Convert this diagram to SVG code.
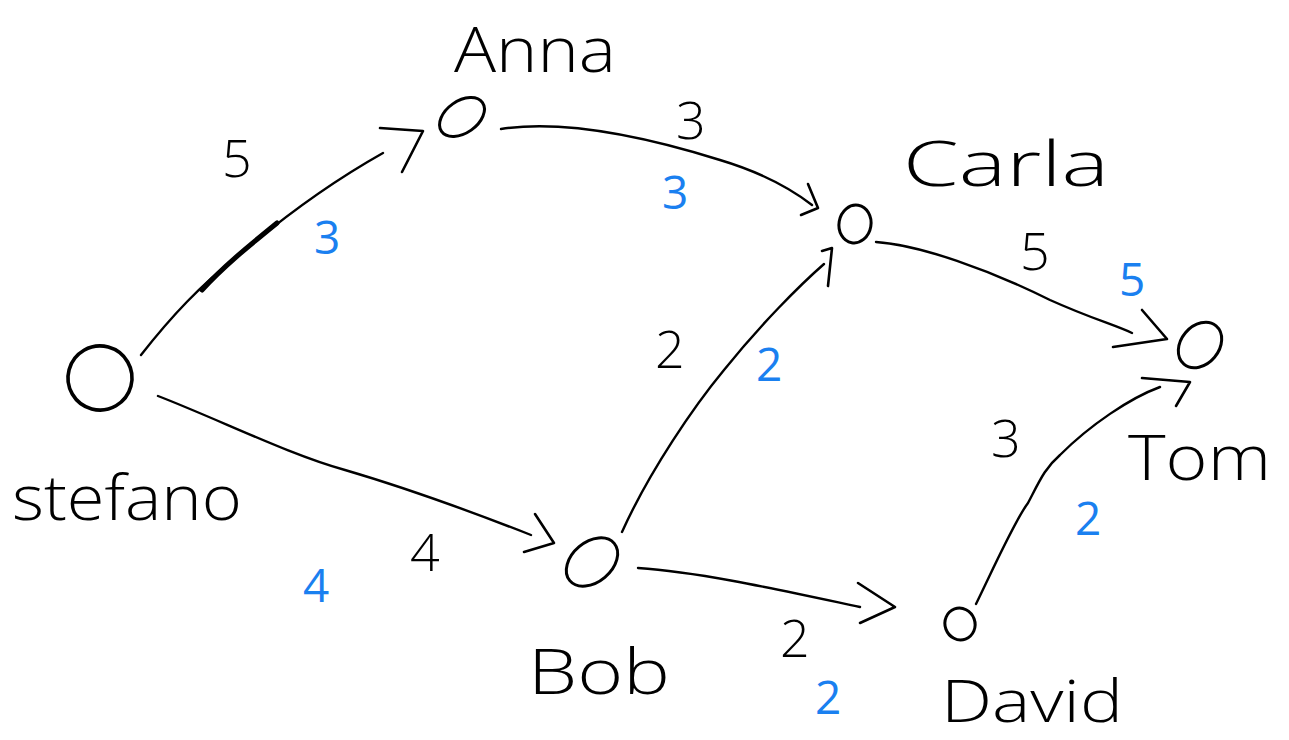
<svg xmlns="http://www.w3.org/2000/svg" width="1289" height="740" viewBox="0 0 1289 740">
  <style>
    .bg { fill: #ffffff; }
    .node { fill: none; stroke: #000; stroke-width: 3; }
    .edge { fill: none; stroke: #000; stroke-width: 2.4; stroke-linecap: round; stroke-linejoin: round; }
    .head { fill: none; stroke: #000; stroke-width: 2.6; stroke-linecap: round; stroke-linejoin: round; }
    .name { font-family: "Open Sans", "Liberation Sans", sans-serif; font-weight: 300; font-size: 62px; fill: #000; }
    .w { font-family: "Open Sans", "Liberation Sans", sans-serif; font-weight: 300; font-size: 52px; fill: #000; }
    .wb { font-family: "Open Sans", "Liberation Sans", sans-serif; font-weight: 400; font-size: 46px; fill: #1a80f0; }
  </style>
  <rect class="bg" x="0" y="0" width="1289" height="740"/>

  <!-- connectors -->
  <g id="connectors">
    <!-- stefano -> Anna -->
    <path class="edge" d="M141 355 C170 318 200 285 245 250 C290 212 335 180 383 153"/>
    <path class="edge" style="stroke-width:5" d="M202 290 C225 265 250 245 277 223"/>
    <path class="head" d="M380 128 L423 131 L402 172"/>
    <!-- Anna -> Carla -->
    <path class="edge" d="M501 129 C560 120 640 135 720 160 C760 172 790 188 812 205"/>
    <path class="head" d="M808 184 L818 208 L801 215"/>
    <!-- stefano -> Bob -->
    <path class="edge" d="M158 396 C220 420 290 455 345 470 C420 492 480 515 531 535"/>
    <path class="head" d="M535 514 L554 543 L524 552"/>
    <!-- Bob -> Carla -->
    <path class="edge" d="M622 532 C650 470 695 405 724 370 C760 325 800 285 824 264"/>
    <path class="head" d="M822 251 L832 248 L828 286"/>
    <!-- Carla -> Tom -->
    <path class="edge" d="M876 242 C920 245 990 270 1050 300 C1090 318 1115 325 1132 333"/>
    <path class="head" d="M1142 310 L1167 339 L1113 347"/>
    <!-- Bob -> David -->
    <path class="edge" d="M638 568 C700 572 780 590 860 607"/>
    <path class="head" d="M858 583 L895 607 L860 623"/>
    <!-- David -> Tom -->
    <path class="edge" d="M976 604 C995 565 1015 520 1028 503 C1040 480 1045 468 1060 455 C1090 425 1130 398 1160 387"/>
    <path class="head" d="M1142 378 L1190 382 L1176 406"/>
  </g>

  <!-- edge weights -->
  <g id="weights">
    <text class="w" x="222" y="177">5</text>
    <text class="wb" x="314" y="254">3</text>
    <text class="w" x="676" y="139">3</text>
    <text class="wb" x="662" y="209">3</text>
    <text class="w" x="1020" y="270">5</text>
    <text class="wb" x="1119" y="296">5</text>
    <text class="w" x="655" y="368">2</text>
    <text class="wb" x="756" y="381">2</text>
    <text class="w" x="410" y="571">4</text>
    <text class="wb" x="303" y="602">4</text>
    <text class="w" x="780" y="657">2</text>
    <text class="wb" x="815" y="714">2</text>
    <text class="w" x="991" y="457">3</text>
    <text class="wb" x="1075" y="535">2</text>
  </g>

  <!-- nodes -->
  <g id="node-stefano">
    <ellipse class="node" style="stroke-width:3.6" cx="100" cy="378" rx="32" ry="32" transform="rotate(-30 100 378)"/>
    <text class="name" x="12" y="520" textLength="230" lengthAdjust="spacingAndGlyphs">stefano</text>
  </g>
  <g id="node-anna">
    <ellipse class="node" cx="462" cy="117" rx="25" ry="16" transform="rotate(-35 462 117)"/>
    <text class="name" x="454" y="72" textLength="162" lengthAdjust="spacingAndGlyphs">Anna</text>
  </g>
  <g id="node-carla">
    <ellipse class="node" cx="855" cy="224" rx="16" ry="19" transform="rotate(10 855 224)"/>
    <text class="name" x="903" y="186" textLength="206" lengthAdjust="spacingAndGlyphs">Carla</text>
  </g>
  <g id="node-tom">
    <ellipse class="node" cx="1200" cy="345" rx="25" ry="19" transform="rotate(-50 1200 345)"/>
    <text class="name" x="1128" y="480" textLength="143" lengthAdjust="spacingAndGlyphs">Tom</text>
  </g>
  <g id="node-bob">
    <ellipse class="node" cx="592" cy="562" rx="29" ry="20" transform="rotate(-40 592 562)"/>
    <text class="name" x="528" y="694" textLength="142" lengthAdjust="spacingAndGlyphs">Bob</text>
  </g>
  <g id="node-david">
    <ellipse class="node" cx="960" cy="624" rx="15" ry="16" transform="rotate(-20 960 624)"/>
    <text class="name" style="font-size:58px" x="941" y="722" textLength="182" lengthAdjust="spacingAndGlyphs">David</text>
  </g>
</svg>
